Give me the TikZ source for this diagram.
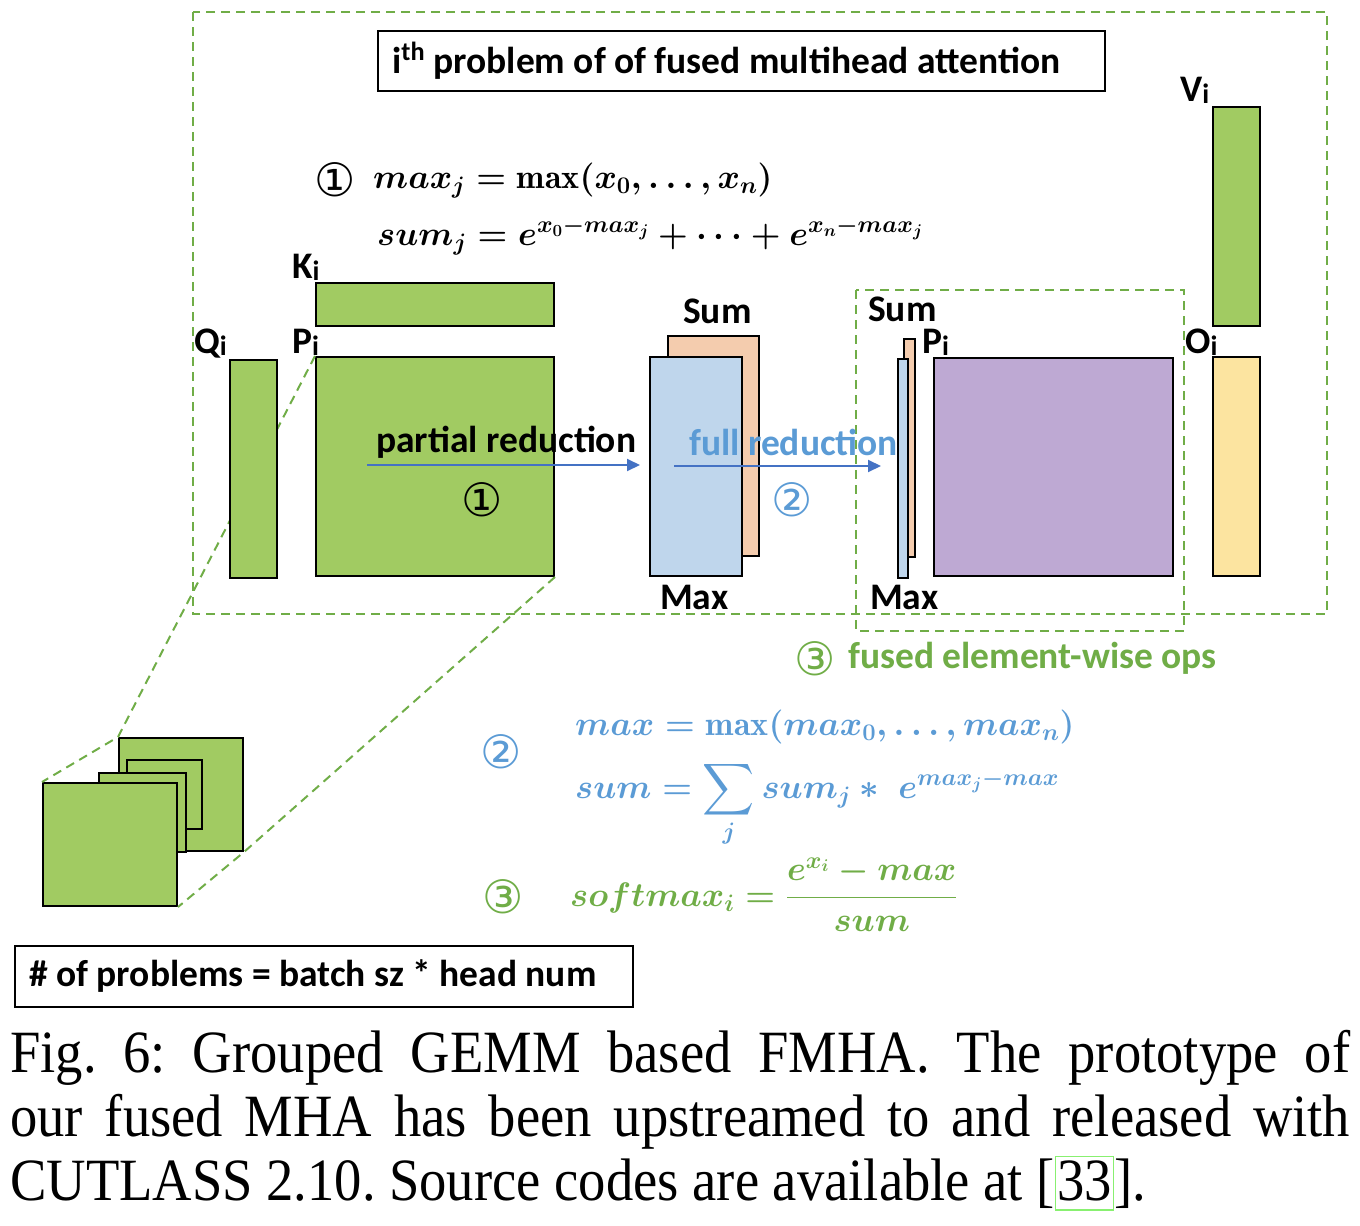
\RequirePackage{fix-cm}
\documentclass[tikz,border=0pt]{standalone}
\usepackage{exscale}
\usepackage{graphicx}
\usepackage{fontspec}
\usetikzlibrary{arrows.meta,positioning}
\newfontfamily\calib{Carlito}
\newfontfamily\capfont[FakeStretch=0.91]{Liberation Serif}
\newfontfamily\circfont{DejaVu Sans}
\definecolor{matgreen}{HTML}{A1CB62}
\definecolor{dashgreen}{HTML}{70AD47}
\definecolor{redblue}{HTML}{5B9BD5}
\definecolor{arrowblue}{HTML}{4472C4}
\definecolor{sumpeach}{HTML}{F4CCAE}
\definecolor{maxblue}{HTML}{BFD6EC}
\definecolor{ppurple}{HTML}{BEA9D3}
\definecolor{oyellow}{HTML}{FCE4A0}
\definecolor{linkgreen}{HTML}{88F070}
\newcommand\subi{\raisebox{-2pt}{\fontsize{28}{28}\selectfont i}}
\newcommand\bigsum{\mathop{\vcenter{\hbox{\scalebox{1.45}{$\displaystyle\sum$}}}}\limits}
\newcommand\citebox[1]{{\color{linkgreen}\fboxsep=1pt\fboxrule=1.5pt\fbox{\color{black}\vphantom{[}#1}}}
\begin{document}
\begin{tikzpicture}[x=1pt,y=-1pt,
  mat/.style={draw, line width=2pt, inner sep=0pt, anchor=north west},
  lbl/.style={font=\calib\bfseries\fontsize{37.5}{42}\selectfont, inner sep=0pt, anchor=base west},
  fence/.style={draw=dashgreen, line width=2pt, dash pattern=on 9pt off 6pt},
  circnum/.style={font=\circfont\fontsize{46}{50}\selectfont, inner sep=0pt},
  eqn/.style={font=\fontsize{34}{40}\selectfont\boldmath, inner sep=0pt, anchor=base west},
  flow/.style={draw=arrowblue, line width=2pt, -{Triangle[length=13pt,width=12pt]}}]

  \useasboundingbox (0,0) rectangle (1360,1226);

  % frames
  \draw[fence] (193,12) rectangle (1327,614);
  \draw[fence] (856,290) rectangle (1184,631);

  % title of the i-th problem
  \node[mat, line width=1.5pt, minimum width=727pt, minimum height=60pt] (title) at (377,30) {};
  \node[lbl, anchor=west] (titletext) at ([xshift=15pt]title.west) {i\textsuperscript{th} problem of of fused multihead attention};

  % step 1 formulas
  \node[circnum] (onea) at (335,180) {①};
  \node[eqn] (eqmaxj) at (373,188) {$max_j = \max(x_0, \dots, x_n)$};
  \node[eqn] (eqsumj) at (377,245) {$sum_j = e^{x_0-max_j} + \cdots + e^{x_n-max_j}$};

  % batch of problems
  \node[mat, fill=matgreen, minimum width=124pt, minimum height=113pt] (sqd) at (118,737) {};
  \node[mat, fill=matgreen, minimum width=75pt, minimum height=69pt] (sqc) at (126,759) {};
  \node[mat, fill=matgreen, minimum width=87pt, minimum height=79pt] (sqb) at (98,772) {};
  \node[mat, fill=matgreen, minimum width=134pt, minimum height=123pt] (sqa) at (42,782) {};

  % K, P
  \node[mat, fill=matgreen, minimum width=238pt, minimum height=43pt] (K) at (315,282) {};
  \node[mat, fill=matgreen, minimum width=238pt, minimum height=219pt] (P) at (315,356) {};

  % zoom lines
  \draw[fence] (P.north west) -- (sqd.north west) -- (sqa.north west);
  \draw[fence] (P.south east) -- (sqd.south east) -- (sqa.south east);

  \node[mat, fill=matgreen, minimum width=47pt, minimum height=218pt] (Q) at (229,359) {};

  % partial results
  \node[mat, fill=sumpeach, minimum width=91pt, minimum height=220pt] (suma) at (667,335) {};
  \node[mat, fill=maxblue, minimum width=92pt, minimum height=219pt] (maxa) at (649,356) {};

  \node[lbl] (partial) at (376,452) {partial reduction};
  \coordinate (prstart) at (367,465);
  \draw[flow, shorten >=9pt] (prstart) -- (maxa.west |- prstart);
  \node[circnum] (oneb) at (482,500) {①};

  \node[lbl, text=redblue] (full) at (689,455) {full reduction};
  \coordinate (frstart) at (674,466);

  % fused element-wise
  \node[mat, line width=1.5pt, fill=sumpeach, minimum width=11pt, minimum height=218pt] (sumb) at (903,338) {};
  \node[mat, line width=1.5pt, fill=maxblue, minimum width=10pt, minimum height=219pt] (maxb) at (897,358) {};
  \draw[flow, shorten >=16pt] (frstart) -- (maxb.west |- frstart);
  \node[circnum, text=redblue] (twoa) at (792,500) {②};

  \node[mat, fill=ppurple, minimum width=239pt, minimum height=218pt] (Pb) at (933,357) {};
  \node[mat, fill=matgreen, minimum width=47pt, minimum height=219pt] (V) at (1212,106) {};
  \node[mat, fill=oyellow, minimum width=47pt, minimum height=219pt] (O) at (1212,356) {};

  % labels
  \node[lbl] (Klbl) at (292,278) {K\subi};
  \node[lbl] (Qlbl) at (194,353) {Q\subi};
  \node[lbl] (Plbl) at (292,353) {P\subi};
  \node[lbl] (sumalbl) at (683,323) {Sum};
  \node[lbl] (maxalbl) at (660,609) {Max};
  \node[lbl] (sumblbl) at (868,321) {Sum};
  \node[lbl] (Pblbl) at (922,353) {P\subi};
  \node[lbl] (maxblbl) at (870,609) {Max};
  \node[lbl] (Vlbl) at (1180,101) {V\subi};
  \node[lbl] (Olbl) at (1185,353) {O\subi};

  \node[circnum, text=dashgreen] (threea) at (815,659) {③};
  \node[lbl, text=dashgreen] (fused) at (848,668) {fused element-wise ops};

  % step 2 and 3 formulas
  \node[circnum, text=redblue] (twob) at (501,752) {②};
  \node[eqn, text=redblue] (eqmax) at (575,735) {$max = \max(max_0, \dots, max_n)$};
  \node[eqn, text=redblue] (eqsum) at (575,798) {$sum = \bigsum_j sum_j *\ e^{max_j-max}$};
  \node[circnum, text=dashgreen] (threeb) at (503,897) {③};
  \node[eqn, text=dashgreen] (eqsoft) at (570,906) {$softmax_i = \displaystyle\frac{e^{x_i}-max}{sum}$};

  % problem count
  \node[mat, line width=1.5pt, minimum width=618pt, minimum height=61pt] (count) at (14,945) {};
  \node[lbl, anchor=west] (counttext) at ([xshift=15pt]count.west) {\# of problems = batch sz * head num};

  % caption
  \node[inner sep=0pt, anchor=base west, font=\capfont\fontsize{60}{64}\selectfont\frenchspacing] (capa) at (10,1072) {\makebox[1340pt][s]{Fig. 6: Grouped GEMM based FMHA. The prototype of}};
  \node[inner sep=0pt, anchor=base west, font=\capfont\fontsize{60}{64}\selectfont\frenchspacing] (capb) at (10,1136) {\makebox[1340pt][s]{our fused MHA has been upstreamed to and released with}};
  \node[inner sep=0pt, anchor=base west, font=\capfont\fontsize{60}{64}\selectfont\frenchspacing] (capc) at (10,1200) {CUTLASS 2.10. Source codes are available at [\citebox{33}].};

\end{tikzpicture}
\end{document}
